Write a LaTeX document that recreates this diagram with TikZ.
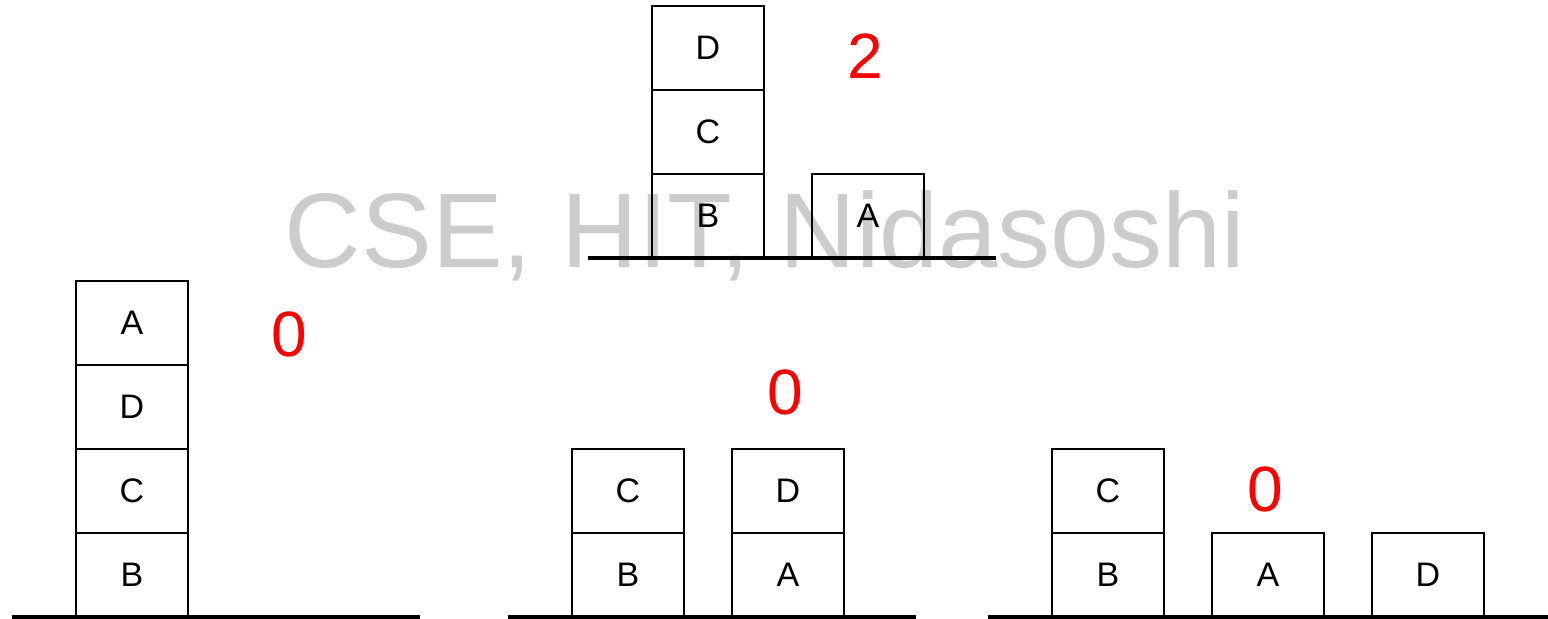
\documentclass[tikz,border=0pt]{standalone}
\usepackage{fontspec}
\setmainfont{Liberation Sans}
\usetikzlibrary{positioning}
\definecolor{myred}{RGB}{255,0,0}
\definecolor{mygray}{RGB}{204,204,204}
\tikzset{
  blk/.style={draw,line width=1.2pt,outer sep=0pt,minimum width=56pt,minimum height=42pt,
    inner sep=0pt,font=\fontsize{17}{18}\selectfont},
  ground/.style={line width=2pt},
  score/.style={text=myred,inner sep=0pt,font=\fontsize{32}{34}\selectfont}
}
\begin{document}
\begin{tikzpicture}[x=0.5pt,y=-0.5pt]
\useasboundingbox (0,0) rectangle (1548,619);
% watermark
\node[text=mygray,anchor=base,inner sep=0pt,font=\fontsize{53}{58}\selectfont] (wm) at (765,268) {CSE, HIT, Nidasoshi};
% top state
\coordinate (g1l) at (588,258);
\coordinate (g1r) at (996,258);
\draw[ground] (g1l) -- (g1r);
\node[blk,anchor=south] (t-b) at (708,258) {B};
\node[blk,above=0pt of t-b] (t-c) {C};
\node[blk,above=0pt of t-c] (t-d) {D};
\node[blk,anchor=south] (t-a) at (868,258) {A};
\node[score] (t-h) at (865,56) {2};
% bottom left
\coordinate (g2l) at (12,617);
\coordinate (g2r) at (420,617);
\draw[ground] (g2l) -- (g2r);
\node[blk,anchor=south] (l-b) at (132,617) {B};
\node[blk,above=0pt of l-b] (l-c) {C};
\node[blk,above=0pt of l-c] (l-d) {D};
\node[blk,above=0pt of l-d] (l-a) {A};
\node[score] (l-h) at (289,334) {0};
% bottom middle
\coordinate (g3l) at (508,617);
\coordinate (g3r) at (916,617);
\draw[ground] (g3l) -- (g3r);
\node[blk,anchor=south] (m-b) at (628,617) {B};
\node[blk,above=0pt of m-b] (m-c) {C};
\node[blk,anchor=south] (m-a) at (788,617) {A};
\node[blk,above=0pt of m-a] (m-d) {D};
\node[score] (m-h) at (785,392) {0};
% bottom right
\coordinate (g4l) at (988,617);
\coordinate (g4r) at (1548,617);
\draw[ground] (g4l) -- (g4r);
\node[blk,anchor=south] (r-b) at (1108,617) {B};
\node[blk,above=0pt of r-b] (r-c) {C};
\node[blk,anchor=south] (r-a) at (1268,617) {A};
\node[blk,anchor=south] (r-d) at (1428,617) {D};
\node[score] (r-h) at (1265,489) {0};
\end{tikzpicture}
\end{document}
